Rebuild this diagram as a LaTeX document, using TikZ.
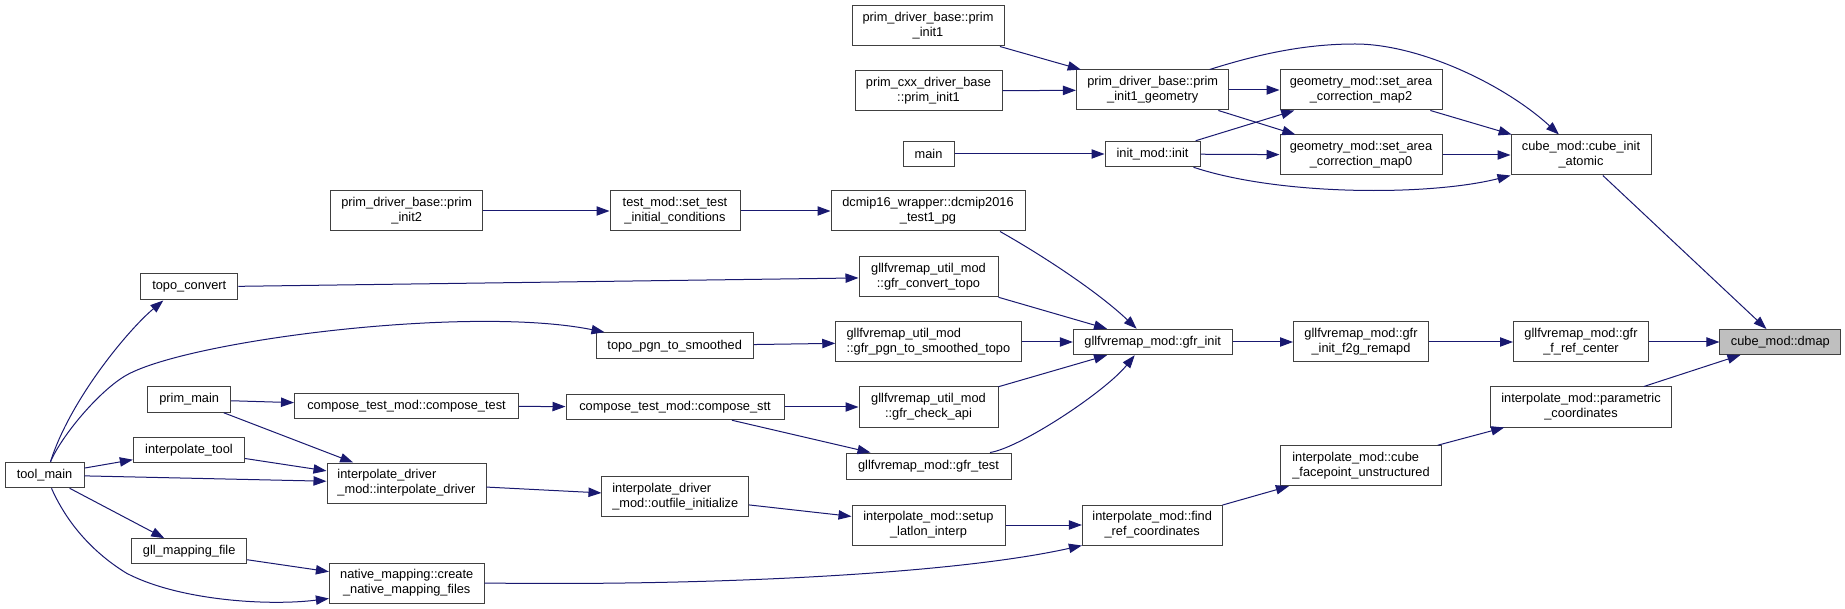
\documentclass[tikz,border=0pt]{standalone}
\usepackage{fontspec}
\setmainfont{Liberation Sans}
\usetikzlibrary{arrows.meta,calc}
\definecolor{edgecol}{HTML}{191970}
\definecolor{boxcol}{HTML}{404040}
\definecolor{hlcol}{HTML}{BFBFBF}
\begin{document}
\begin{tikzpicture}[x=0.75pt,y=-0.75pt,
  box/.style={draw=boxcol, line width=0.75pt, fill=white, inner sep=0pt, align=center,
    font=\fontsize{9.6}{11.25}\selectfont, text=black},
  sz/.style 2 args={minimum width=#1*0.75pt, minimum height=#2*0.75pt},
  edge/.style={draw=edgecol, line width=0.75pt, -{Triangle[length=9.75pt,width=7pt]}},
]
\fill[white] (0,0) rectangle (1845,609);
\useasboundingbox (0,0) rectangle (1845,609);

% nodes
\node[box,sz={152}{40}] (pinit1) at (928,26) {prim\_driver\_base::prim\\\_init1};
\node[box,sz={147}{40}] (pcxx) at (928.5,91) {prim\_cxx\_driver\_base\\::prim\_init1};
\node[box,sz={152.5}{40}] (pgeom) at (1152.7,90) {prim\_driver\_base::prim\\\_init1\_geometry};
\node[box,sz={162}{40}] (map2) at (1361,90) {geometry\_mod::set\_area\\\_correction\_map2};
\node[box,sz={51}{25.5}] (main) at (928.5,154) {main};
\node[box,sz={95}{25.5}] (init) at (1152.5,154) {init\_mod::init};
\node[box,sz={162}{40}] (map0) at (1361,155) {geometry\_mod::set\_area\\\_correction\_map0};
\node[box,sz={140}{40}] (cubeinit) at (1581,155) {cube\_mod::cube\_init\\\_atomic};
\node[box,sz={152}{40}] (pinit2) at (406.7,211) {prim\_driver\_base::prim\\\_init2};
\node[box,sz={130}{40}] (settest) at (675,211) {test\_mod::set\_test\\\_initial\_conditions};
\node[box,sz={194}{40}] (dcmip) at (928,211) {dcmip16\_wrapper::dcmip2016\\\_test1\_pg};
\node[box,sz={97.3}{26}] (topoconv) at (189.3,287) {topo\_convert};
\node[box,sz={139}{40}] (gfrconv) at (928.5,277) {gllfvremap\_util\_mod\\::gfr\_convert\_topo};
\node[box,sz={157.4}{26}] (topopgn) at (674.7,345.7) {topo\_pgn\_to\_smoothed};
\node[box,sz={185.3}{40},align=left] (gfrpgn) at (928.4,342) {gllfvremap\_util\_mod\\::gfr\_pgn\_to\_smoothed\_topo};
\node[box,sz={158.7}{25.5}] (gfrinit) at (1152.7,342) {gllfvremap\_mod::gfr\_init};
\node[box,sz={135}{40}] (f2g) at (1361,342) {gllfvremap\_mod::gfr\\\_init\_f2g\_remapd};
\node[box,sz={135}{40}] (fref) at (1581,342) {gllfvremap\_mod::gfr\\\_f\_ref\_center};
\node[box,sz={120.7}{25},fill=hlcol] (dmap) at (1780.3,342) {cube\_mod::dmap};
\node[box,sz={83}{25.6}] (primmain) at (189.2,399.5) {prim\_main};
\node[box,sz={224}{25.6}] (ctest) at (406.5,406) {compose\_test\_mod::compose\_test};
\node[box,sz={218}{25.5}] (cstt) at (675,407) {compose\_test\_mod::compose\_stt};
\node[box,sz={139}{40}] (gfrcheck) at (928.5,407) {gllfvremap\_util\_mod\\::gfr\_check\_api};
\node[box,sz={181}{40}] (param) at (1581,407) {interpolate\_mod::parametric\\\_coordinates};
\node[box,sz={111.3}{25}] (itool) at (189,450) {interpolate\_tool};
\node[box,sz={165}{26}] (gfrtest) at (928.5,466) {gllfvremap\_mod::gfr\_test};
\node[box,sz={161}{40},align=left] (cface) at (1361,465.7) {interpolate\_mod::cube\\\_facepoint\_unstructured};
\node[box,sz={79}{25.6}] (toolmain) at (44.5,475) {tool\_main};
\node[box,sz={159}{40},align=left] (idriver) at (406.5,483) {interpolate\_driver\\\_mod::interpolate\_driver};
\node[box,sz={146.7}{40},align=left] (outinit) at (675.3,496.7) {interpolate\_driver\\\_mod::outfile\_initialize};
\node[box,sz={153}{40}] (setup) at (928.5,525) {interpolate\_mod::setup\\\_latlon\_interp};
\node[box,sz={139.6}{40}] (findref) at (1152.2,525) {interpolate\_mod::find\\\_ref\_coordinates};
\node[box,sz={115}{25.3}] (gllmap) at (189.2,551.3) {gll\_mapping\_file};
\node[box,sz={154.6}{40}] (native) at (406.7,583) {native\_mapping::create\\\_native\_mapping\_files};

% edges
\draw[edge] (pinit1) -- (pgeom);
\draw[edge] (pcxx) -- (pgeom);
\draw[edge] (pgeom) -- (map2);
\draw[edge] (pgeom) -- (map0);
\draw[edge] ($(pgeom.north)+(57,0)$) .. controls (1265,52) and (1310,44) .. (1355,44)
  .. controls (1420,44) and (1505,85) .. ($(cubeinit.north)+(-22,0)$);
\draw[edge] (main) -- (init);
\draw[edge] (init) -- (map2);
\draw[edge] (init) -- (map0);
\draw[edge] ($(init.south east)+(-7,0)$) .. controls (1280,196) and (1430,196) .. (cubeinit.south west);
\draw[edge] (map2) -- (cubeinit);
\draw[edge] (map0) -- (cubeinit);
\draw[edge] (cubeinit) -- (dmap);
\draw[edge] (pinit2) -- (settest);
\draw[edge] (settest) -- (dcmip);
\draw[edge] ($(dcmip.south)+(72,0)$) .. controls (1040,254) and (1097,291) .. ($(gfrinit.north)+(-16,0)$);
\draw[edge] (topoconv) -- (gfrconv);
\draw[edge] (gfrconv) -- (gfrinit);
\draw[edge] (topopgn) -- (gfrpgn);
\draw[edge] (gfrpgn) -- (gfrinit);
\draw[edge] (gfrcheck) -- (gfrinit);
\draw[edge] ($(gfrtest.north)+(61.5,0)$) .. controls (1020,448) and (1105,392) .. ($(gfrinit.south)+(-18,0)$);
\draw[edge] (gfrinit) -- (f2g);
\draw[edge] (f2g) -- (fref);
\draw[edge] (fref) -- (dmap);
\draw[edge] (param) -- (dmap);
\draw[edge] (cface) -- (param);
\draw[edge] (findref) -- (cface);
\draw[edge] (primmain) -- (ctest);
\draw[edge] (primmain) -- (idriver);
\draw[edge] (ctest) -- (cstt);
\draw[edge] (cstt) -- (gfrcheck);
\draw[edge] (cstt) -- (gfrtest);
\draw[edge] (itool) -- (idriver);
\draw[edge] (toolmain) -- (itool);
\draw[edge] (toolmain) -- (idriver);
\draw[edge] (toolmain) -- (gllmap);
\draw[edge] ($(toolmain.north)+(6,0)$) .. controls (70,400) and (128,330) .. ($(topoconv.south)+(-26,0)$);
\draw[edge] ($(toolmain.north)+(6,0)$) .. controls (62,435) and (100,390) .. (126.7,375)
  .. controls (190,340) and (470,305) .. ($(topopgn.north west)+(9,0)$);
\draw[edge] ($(toolmain.south)+(7,0)$) .. controls (70,530) and (100,557) .. (126.7,573.3)
  .. controls (180,601) and (270,606) .. ($(native.south west)+(0,-5)$);
\draw[edge] (gllmap) -- (native);
\draw[edge] (idriver) -- (outinit);
\draw[edge] (outinit) -- (setup);
\draw[edge] (setup) -- (findref);
\draw[edge] (native.east) .. controls (700,586) and (950,575) .. (findref.south west);
\end{tikzpicture}
\end{document}
